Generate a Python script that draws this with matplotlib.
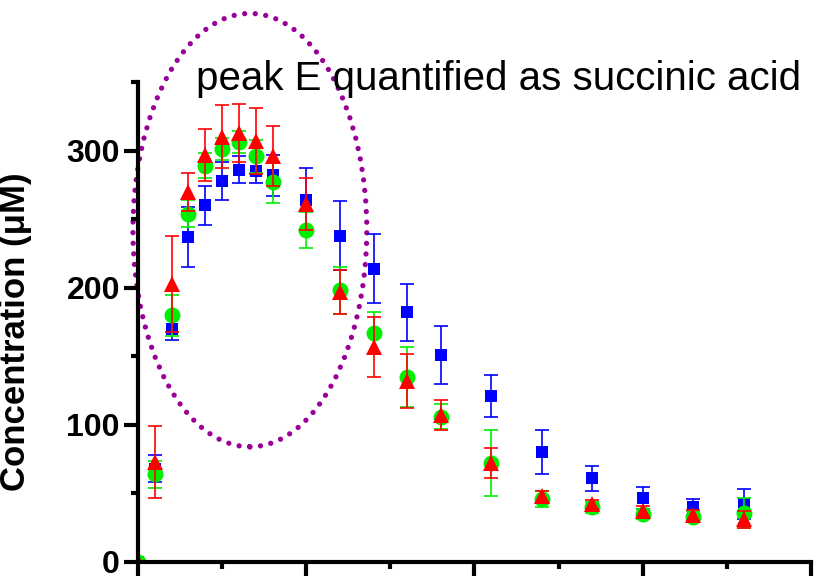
import numpy as np
import matplotlib.pyplot as plt
from matplotlib.patches import Ellipse
from matplotlib.ticker import MultipleLocator

plt.rcParams['font.family'] = ['Liberation Sans', 'DejaVu Sans']

# fraction number (x) and concentration in uM
x = [0, 1, 2, 3, 4, 5, 6, 7, 8, 10, 12, 14, 16, 18, 21, 24, 27, 30, 33, 36]

blue = [0, 68, 170, 237, 260, 278, 286, 285, 282, 264, 238, 214, 182, 151, 121, 80, 61, 47, 40, 42]
blue_err = [0, 10, 8, 22, 14, 14, 10, 9, 15, 23, 25, 25, 21, 21, 15, 16, 9, 8, 6, 11]

green = [0, 64, 180, 254, 289, 301, 306, 296, 277, 242, 198, 167, 135, 106, 72, 46, 40, 35, 33, 36]
green_err = [0, 10, 15, 10, 9, 8, 8, 12, 15, 13, 17, 15, 22, 9, 24, 6, 4, 4, 4, 11]

red = [0, 73, 203, 270, 297, 310, 313, 307, 296, 261, 197, 157, 132, 107, 72, 48, 42, 37, 34, 31]
red_err = [0, 26, 35, 14, 19, 23, 21, 24, 22, 19, 16, 22, 20, 11, 11, 4, 3, 4, 4, 6]

fig = plt.figure(figsize=(8.17, 5.77), dpi=100)
ax = fig.add_axes([0.1689, 0.026, 0.8237, 0.8319])

series = [(blue, blue_err, 's', '#0000ff', 9),
          (green, green_err, 'o', '#00ee00', 11.5),
          (red, red_err, '^', '#ff0000', 12)]
for y, err, m, c, size in series:
    ax.errorbar(x, y, yerr=err, fmt='none', ecolor=c, elinewidth=1.2,
                capsize=4.7, capthick=1.2)
    ax.plot(x, y, m, color=c, ms=size, mew=0)

ell = Ellipse((6.65, 242), 13.9, 316, fill=False, edgecolor='#990099',
              linewidth=3.8, linestyle=(0, (0.01, 2.0)), capstyle='round',
              clip_on=False)
ax.add_patch(ell)

ax.text(3.45, 344, 'peak E quantified as succinic acid', fontsize=29,
        ha='left', va='baseline')

ax.set_xlim(0, 40)
ax.set_ylim(0, 350)
ax.xaxis.set_major_locator(MultipleLocator(10))
ax.xaxis.set_minor_locator(MultipleLocator(5))
ax.yaxis.set_major_locator(MultipleLocator(100))
ax.yaxis.set_minor_locator(MultipleLocator(50))

for s in ['top', 'right']:
    ax.spines[s].set_visible(False)
for s in ['left', 'bottom']:
    ax.spines[s].set_linewidth(3)

ax.tick_params(which='major', length=10, width=3, direction='out')
ax.tick_params(which='minor', length=5, width=3, direction='out')
ax.tick_params(axis='x', labelbottom=False)
ax.tick_params(axis='y', labelsize=23, pad=3)
for lab in ax.get_yticklabels():
    lab.set_fontweight('bold')

ax.set_ylabel('Concentration (\u03bcM)', fontsize=25, fontweight='bold')
ax.yaxis.set_label_coords(-0.157, 0.48)

plt.savefig('out.png', dpi=100)
